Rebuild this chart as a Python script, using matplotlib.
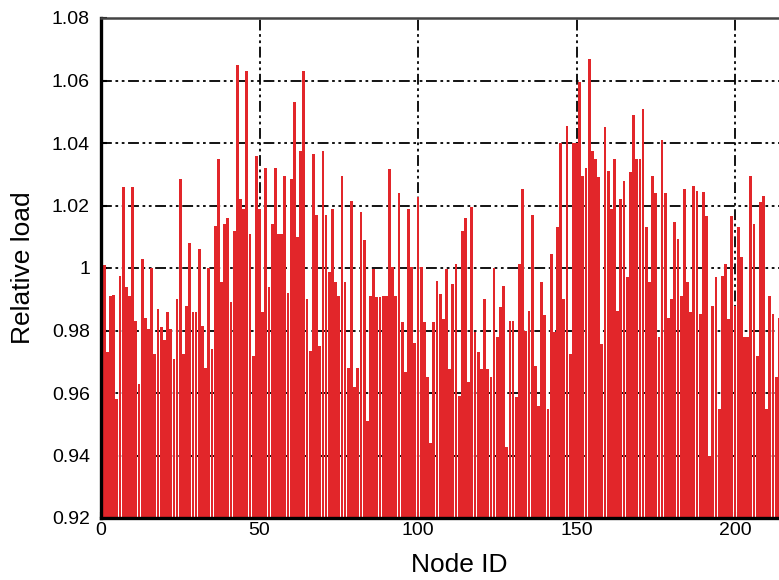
import matplotlib
matplotlib.use("Agg")
import matplotlib.pyplot as plt
import numpy as np

# relative load per node (node 0 .. 214)
node_ids = list(range(215))
loads = [
    0.995, 1.001, 0.973, 0.991, 0.9915, 0.958, 0.9975, 1.026, 0.994, 0.991,
    1.026, 0.983, 0.963, 1.003, 0.984, 0.9805, 1.000, 0.9725, 0.987, 0.981,
    0.977, 0.986, 0.9805, 0.971, 0.990, 1.0285, 0.9725, 0.988, 1.008, 0.986,
    0.986, 1.006, 0.9815, 0.968, 1.000, 0.974, 1.0135, 1.035, 0.9954, 1.014,
    1.016, 0.989, 1.012, 1.065, 1.022, 1.019, 1.063, 1.011, 0.972, 1.036,
    1.019, 0.986, 1.032, 0.994, 1.014, 1.032, 1.011, 1.011, 1.0295, 0.992,
    1.0285, 1.053, 1.010, 1.0375, 1.063, 0.990, 0.9735, 1.0365, 1.017, 0.975,
    1.0375, 1.017, 0.9986, 1.019, 0.9954, 0.991, 1.0295, 0.9954, 0.968, 1.0215,
    0.962, 0.968, 1.018, 1.009, 0.951, 0.991, 0.9997, 0.9906, 0.9906, 0.991,
    0.991, 1.0317, 1.0002, 0.991, 1.024, 0.9826, 0.9666, 1.019, 1.0002, 0.976,
    1.0226, 1.0002, 0.9826, 0.965, 0.944, 0.9826, 0.996, 0.9917, 0.9837, 0.9997,
    0.9677, 0.995, 1.0013, 0.959, 1.012, 1.016, 0.9634, 1.0194, 0.9794, 0.973,
    0.9677, 0.990, 0.9677, 0.965, 1.000, 0.9778, 0.9874, 0.9943, 0.9426, 0.983,
    0.983, 0.9586, 1.0013, 1.0253, 0.980, 0.9863, 1.017, 0.9687, 0.956, 0.9954,
    0.985, 0.955, 1.0045, 0.9794, 1.013, 1.040, 0.990, 1.0455, 0.9725, 1.040,
    1.040, 1.0594, 1.0295, 1.032, 1.067, 1.0375, 1.035, 1.029, 0.9757, 1.045,
    1.031, 1.019, 1.035, 0.9863, 1.022, 1.028, 0.997, 1.0306, 1.049, 1.035,
    1.035, 1.051, 1.013, 0.9954, 1.0295, 1.024, 0.9778, 1.041, 1.024, 0.984,
    0.990, 1.0146, 1.0093, 0.991, 1.0253, 0.9954, 0.9858, 1.0263, 1.0247, 0.9853,
    1.0242, 1.0167, 0.940, 0.988, 0.997, 0.955, 0.9975, 1.0013, 0.9837, 1.0167,
    0.988, 1.013, 1.0034, 0.9778, 0.9778, 1.0295, 1.014, 0.972, 1.021, 1.023,
    0.955, 0.991, 0.9853, 0.965, 0.984,
]
x_ticks = [0, 50, 100, 150, 200]
y_ticks = [0.92, 0.94, 0.96, 0.98, 1.00, 1.02, 1.04, 1.06, 1.08]
y_tick_labels = ["0.92", "0.94", "0.96", "0.98", "1", "1.02", "1.04", "1.06", "1.08"]

plt.rcParams['font.family'] = ['Liberation Sans', 'DejaVu Sans']

fig = plt.figure(figsize=(7.79, 5.80), dpi=100)
# the reference is cut off on the right: the axes run past the figure edge
ax = fig.add_axes([101 / 779, 62 / 580, (817 - 101) / 779, 500 / 580])

base = 0.92
ax.bar(node_ids, np.array(loads) - base, bottom=base, width=0.88,
       color='#E2262A', linewidth=0, zorder=2)

ax.set_xlim(0, (817 - 101) / 3.17)
ax.set_ylim(0.92, 1.08)
ax.set_xticks(x_ticks)
ax.set_yticks(y_ticks)
ax.set_yticklabels(y_tick_labels)

ax.grid(True, color='black', linestyle=(0, (6, 2, 1.5, 2, 1.5, 2)),
        linewidth=1.3, zorder=1)
ax.set_axisbelow(True)

ax.spines['right'].set_visible(False)
ax.spines['left'].set_linewidth(2.4)
ax.spines['bottom'].set_linewidth(2.4)
ax.spines['top'].set_linewidth(1.8)
ax.spines['top'].set_color('#444444')
for s in ax.spines.values():
    s.set_zorder(5)

ax.tick_params(direction='in', length=4, width=1.5, labelsize=14)
ax.tick_params(axis='y', pad=8)
ax.tick_params(axis='x', pad=3)

ax.set_xlabel('Node ID', fontsize=19, labelpad=10)
ax.set_ylabel('Relative load', fontsize=19, labelpad=12)

fig.savefig('out.png', dpi=100)
